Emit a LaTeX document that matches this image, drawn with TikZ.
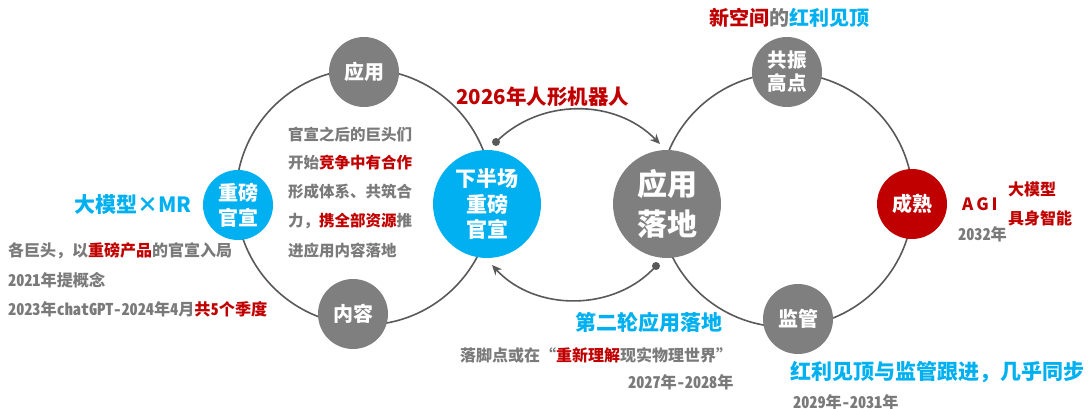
\documentclass[tikz,border=0pt]{standalone}
\usepackage{fontspec}
\setmainfont{Noto Sans CJK SC}
\usetikzlibrary{arrows.meta}
\definecolor{cblue}{HTML}{00B0F0}
\definecolor{cred}{HTML}{C00000}
\definecolor{cgray}{HTML}{7F7F7F}
\definecolor{tgray}{HTML}{7A7A7A}
\definecolor{lgray}{HTML}{595959}
\begin{document}
\begin{tikzpicture}[x=1pt,y=-1pt,
  ring/.style={circle,draw=lgray,line width=1.6pt,inner sep=0pt},
  bub/.style={circle,fill=cgray,text=white,inner sep=0pt,align=center,font=\bfseries\fontsize{20}{25}\selectfont},
  lbl/.style={anchor=west,inner sep=0pt,text=tgray,font=\bfseries\fontsize{15.5}{18}\selectfont},
  half/.style={font=\bfseries\fontsize{16.2}{18}\selectfont\addfontfeature{RawFeature=+hwid}},
  big/.style={anchor=west,inner sep=0pt,font=\bfseries\fontsize{21}{24}\selectfont},
  arr/.style={draw=lgray,line width=1.6pt,-{Stealth[length=10pt,width=9pt]}},
  dot/.style={fill=lgray}]
\useasboundingbox (0,0) rectangle (1089,409);
% rings
\node[ring,minimum size=256pt] (ringL) at (364,197) {};
\node[ring,minimum size=254pt] (ringR) at (786,200) {};
% bubbles
\node[bub,minimum size=70pt] (yy) at (364,72) {应用};
\node[bub,minimum size=70pt] (nr) at (353,314) {内容};
\node[bub,fill=cblue,minimum size=70pt] (zb) at (238,205) {重磅\\官宣};
\node[bub,fill=cblue,minimum size=108pt,font=\bfseries\fontsize{21}{25.5}\selectfont] (xbc) at (487,204) {下半场\\重磅\\官宣};
\node[bub,minimum size=108pt,font=\bfseries\fontsize{30}{40}\selectfont] (yyld) at (667,204) {应用\\落地};
\node[bub,minimum size=70pt,font=\bfseries\fontsize{19.5}{23}\selectfont] (gz) at (787,72) {共振\\高点};
\node[bub,fill=cred,minimum size=70pt] (cs) at (912,204) {成熟};
\node[bub,minimum size=70pt] (jg) at (798,319) {监管};
% arcs
\coordinate (a1) at (496,142);
\coordinate (a2) at (660,144);
\coordinate (b1) at (656,266);
\coordinate (b2) at (492,265);
\fill[dot] (a1) circle (4pt);
\fill[dot] (b1) circle (4pt);
\draw[arr] (a1) .. controls (540,98) and (615,98) .. (a2);
\draw[arr] (b1) .. controls (615,312) and (535,312) .. (b2);
% left texts
\node[big,text=cblue] (t1) at (74,205) {大模型×MR};
\node[lbl,font=\bfseries\fontsize{16}{18}\selectfont] (t2) at (8,251) {各巨头，以{\color{cred}重磅产品}的官宣入局};
\node[lbl,half] (t3) at (8,280) {2021年提概念};
\node[lbl,half] (t4) at (8,309) {2023年chatGPT-2024年4月{\color{cred}共5个季度}};
% inside left ring
\node[lbl] (i1) at (288,135) {官宣之后的巨头们};
\node[lbl] (i2) at (288,163) {开始{\color{cred}竞争中有合作}};
\node[lbl] (i3) at (288,192) {形成体系、共筑合};
\node[lbl] (i4) at (288,221) {力，{\color{cred}携全部资源}推};
\node[lbl] (i5) at (288,251) {进应用内容落地};
% middle
\node[big,text=cred,font=\bfseries\fontsize{20.5}{24}\selectfont] (t5) at (456,97) {2026年人形机器人};
\node[big,text=cblue] (t6) at (575,322) {第二轮应用落地};
\node[lbl,font=\bfseries\fontsize{16}{18}\selectfont] (t7) at (460,355) {落脚点或在“{\color{cred}重新理解}现实物理世界”};
\node[lbl,half] (t8) at (628,382) {2027年-2028年};
% right
\node[big,font=\bfseries\fontsize{20}{24}\selectfont] (t9) at (709,18) {{\color{cred}新空间}{\color{tgray}的}{\color{cblue}红利见顶}};
\node[big,text=cblue] (t10) at (790,372) {红利见顶与监管跟进，几乎同步};
\node[lbl,half] (t11) at (793,402) {2029年-2031年};
\node[lbl,text=cred,font=\bfseries\fontsize{17}{18}\selectfont] (t12) at (962,204) {A\,G\,I};
\node[lbl,text=cred,font=\bfseries\fontsize{16}{18}\selectfont] (t13) at (1008,189) {大模型};
\node[lbl,text=cred,font=\bfseries\fontsize{16}{18}\selectfont] (t14) at (1008,218) {具身智能};
\node[lbl,half] (t15) at (958,234) {2032年};
\end{tikzpicture}
\end{document}
